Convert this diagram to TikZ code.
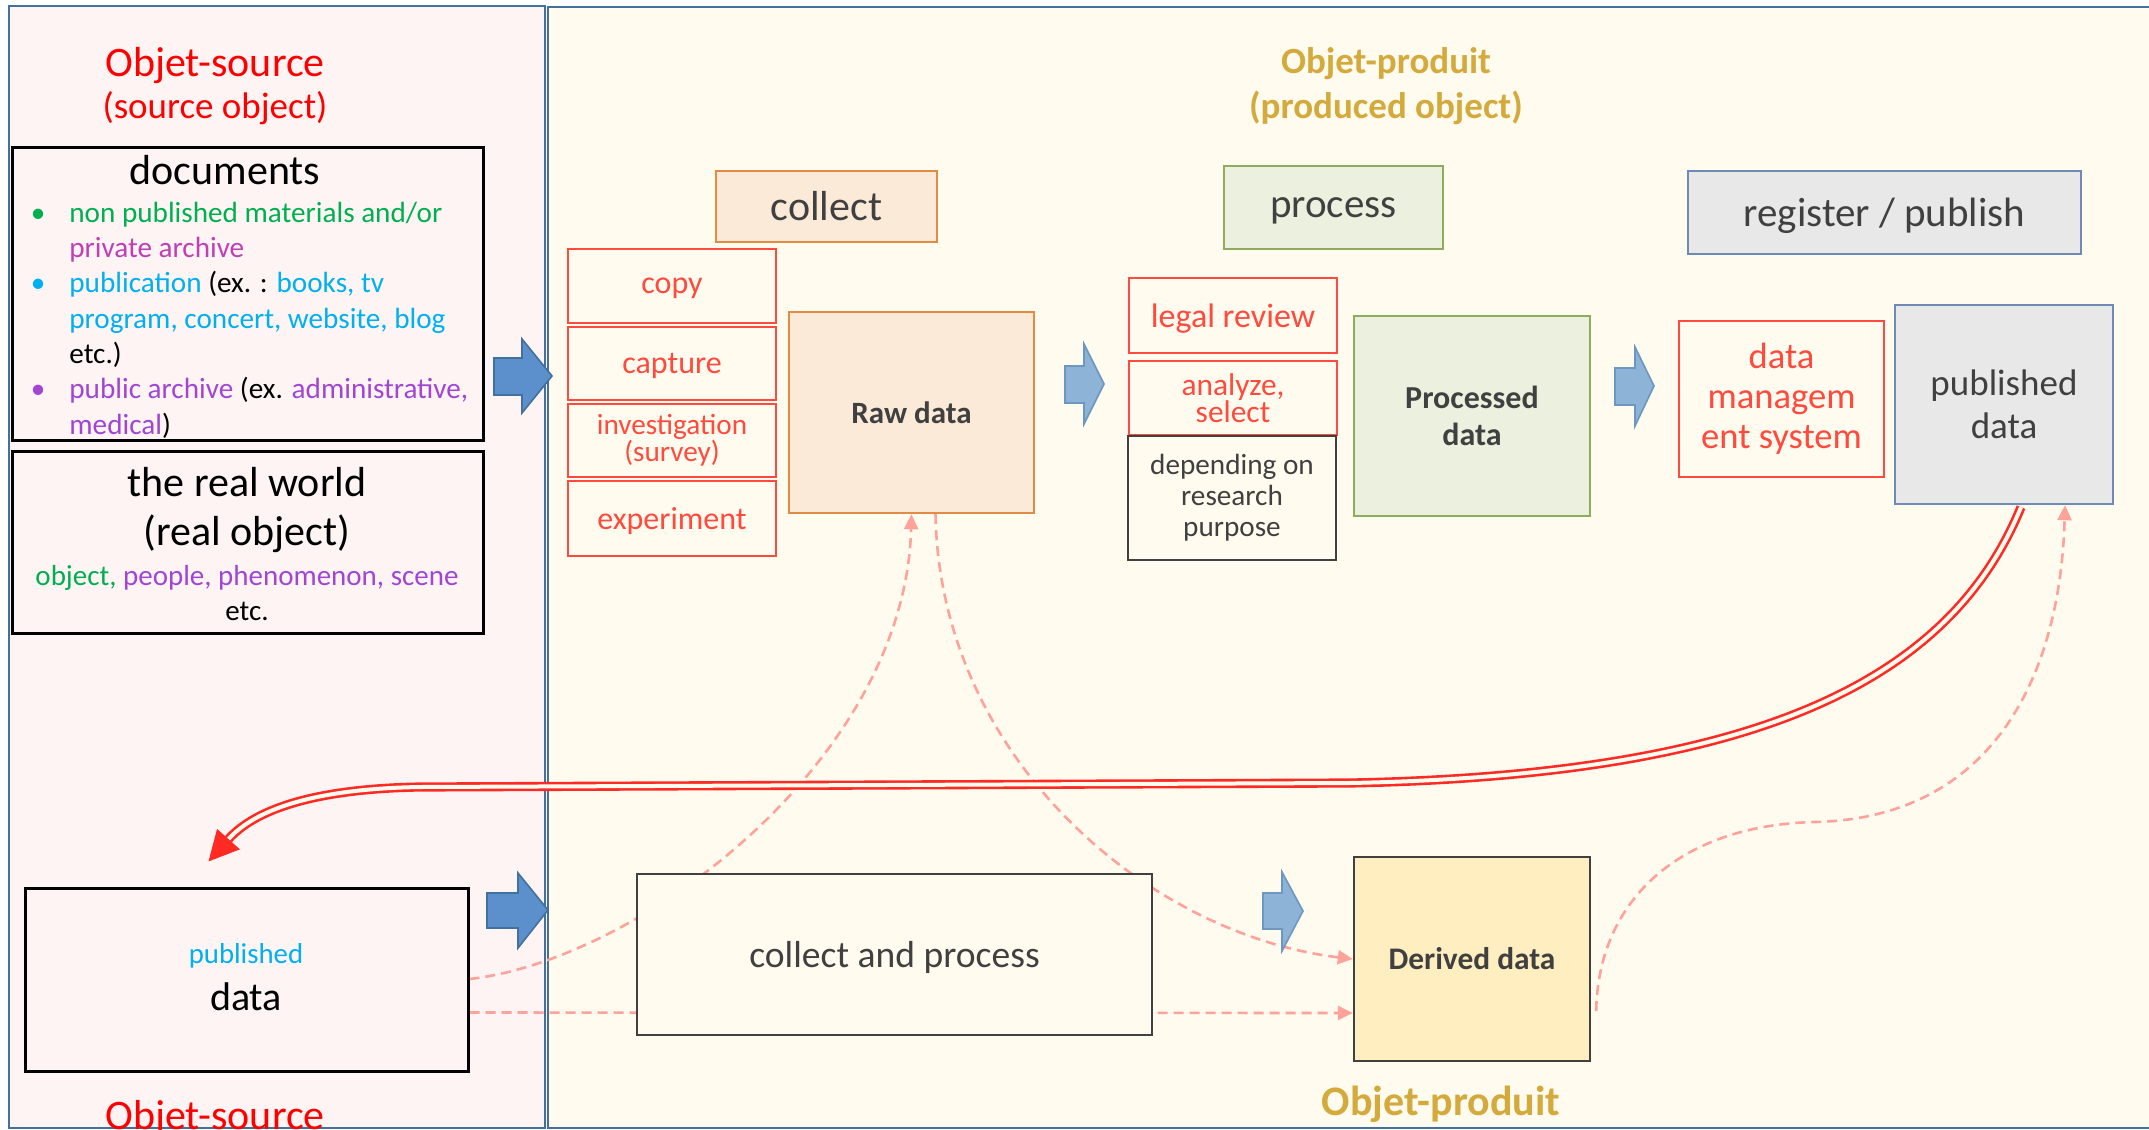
\documentclass[tikz,border=0pt]{standalone}
\usepackage{fontspec}
\setmainfont{Carlito}
\usetikzlibrary{arrows.meta,calc}

\definecolor{panelblue}{HTML}{41719C}
\definecolor{srcfill}{HTML}{FEF4F4}
\definecolor{prodfill}{HTML}{FFFBEF}
\definecolor{cgreen}{HTML}{00B050}
\definecolor{ccyan}{HTML}{00B0F0}
\definecolor{cmagenta}{HTML}{BE40B4}
\definecolor{cviolet}{HTML}{A046D2}
\definecolor{boxred}{HTML}{FF4A3D}
\definecolor{darktext}{HTML}{404040}
\definecolor{cgold}{HTML}{D4AA3C}
\definecolor{collfill}{HTML}{FBEAD7}
\definecolor{colldraw}{HTML}{E18B45}
\definecolor{procfill}{HTML}{EBF1DE}
\definecolor{procdraw}{HTML}{8DAC5E}
\definecolor{regfill}{HTML}{E8E8E8}
\definecolor{regdraw}{HTML}{6E8AB5}
\definecolor{derivfill}{HTML}{FFEEC0}
\definecolor{arrowdark}{HTML}{5C90CC}
\definecolor{arrowlight}{HTML}{8DB3D6}
\definecolor{arrowlightdraw}{HTML}{6D97BF}
\definecolor{dashpink}{HTML}{FFA39A}
\definecolor{linkred}{HTML}{FF2A24}

\pgfdeclarelayer{panels}
\pgfdeclarelayer{links}
\pgfsetlayers{panels,links,main}

\tikzset{
  panel/.style={draw=panelblue,line width=1.2pt},
  srcbox/.style={draw=black,line width=1.5pt,fill=srcfill,inner sep=0pt},
  redbox/.style={draw=boxred,line width=1.4pt,fill=prodfill,text=boxred,inner sep=0pt,minimum width=104pt,align=center},
  collbox/.style={draw=colldraw,line width=1.2pt,fill=collfill,text=darktext,inner sep=0pt,align=center},
  procbox/.style={draw=procdraw,line width=1.2pt,fill=procfill,text=darktext,inner sep=0pt,align=center},
  regbox/.style={draw=regdraw,line width=1.2pt,fill=regfill,text=darktext,inner sep=0pt,align=center},
  darkbox/.style={draw=darktext,line width=1.2pt,fill=prodfill,text=darktext,inner sep=0pt,align=center},
  onerow/.style={text depth=0pt},
  bigarrow/.style={fill=arrowdark,draw=panelblue,line width=0.8pt},
  smallarrow/.style={fill=arrowlight,draw=arrowlightdraw,line width=0.8pt},
  dashlink/.style={draw=dashpink,line width=1.3pt,dash pattern=on 5pt off 3pt,-{Triangle[length=7.5pt,width=7pt]}},
  redlink/.style={draw=linkred,line width=1.3pt,double=prodfill,double distance=2pt,-{Triangle[length=15pt,width=15pt]}}
}

\begin{document}
\begin{tikzpicture}[x=0.5pt,y=-0.5pt]
\useasboundingbox (0,0) rectangle (2149,1130);

% the two areas
\begin{pgfonlayer}{panels}
\draw[panel,fill=srcfill] (9,6) rectangle (545,1128);
\draw[panel,fill=prodfill] (548,7) rectangle (2160,1128);
\end{pgfonlayer}

% source side
\node[srcbox,minimum width=235.5pt,minimum height=146.5pt] (docs) at (247.5,293.5) {};
\node[srcbox,minimum width=235.5pt,minimum height=91pt] (realw) at (247.5,542) {};
\node[srcbox,minimum width=221.5pt,minimum height=91.5pt] (pubsrc) at (246.5,979.5) {};

\node[anchor=base,text=red,font=\fontsize{21}{25}\selectfont] (srctitle) at (215,76) {Objet-source};
\node[anchor=base,text=red,font=\fontsize{18.5}{22}\selectfont] (srcsub) at (215,118) {(source object)};
\node[anchor=base,font=\fontsize{21}{25}\selectfont] (doctitle) at (225,184) {documents};
% base of this node is its last row
\node[anchor=base west,align=left,inner sep=0pt,font=\fontsize{14.6}{17.65}\selectfont] (doclist) at (69,434)
  {\llap{\textcolor{cgreen}{\textbullet}\hspace{12pt}}\textcolor{cgreen}{non published materials and/or}\\
   \textcolor{cmagenta}{private archive}\\
   \llap{\textcolor{ccyan}{\textbullet}\hspace{12pt}}\textcolor{ccyan}{publication} (ex. : \textcolor{ccyan}{books, tv}\\
   \textcolor{ccyan}{program, concert, website, blog}\\
   etc.)\\
   \llap{\textcolor{cviolet}{\textbullet}\hspace{12pt}}\textcolor{cviolet}{public archive} (ex. \textcolor{cviolet}{administrative,}\\
   \textcolor{cviolet}{medical})};
\node[anchor=base,font=\fontsize{21}{25}\selectfont] (rwtitle) at (247,496) {the real world};
\node[anchor=base,font=\fontsize{21}{25}\selectfont] (rwsub) at (247,545) {(real object)};
\node[anchor=base,font=\fontsize{14.5}{17}\selectfont] (rwlist) at (247,585)
  {\textcolor{cgreen}{object,} \textcolor{cviolet}{people, phenomenon, scene}};
\node[anchor=base,font=\fontsize{14.5}{17}\selectfont] (rwetc) at (247,620) {etc.};
\node[anchor=base,text=ccyan,font=\fontsize{14.4}{17}\selectfont] (pubsrctop) at (246,963) {published};
\node[anchor=base,font=\fontsize{20}{24}\selectfont] (pubsrcdata) at (246,1010) {data};
\node[anchor=base,text=red,font=\fontsize{21}{25}\selectfont] (srcfoot) at (215,1129) {Objet-source};

% produced side, titles
\node[anchor=base,text=cgold,font=\bfseries\fontsize{18.5}{22}\selectfont] (prodtitle) at (1386,73) {Objet-produit};
\node[anchor=base,text=cgold,font=\bfseries\fontsize{18.5}{22}\selectfont] (prodsub) at (1386,118) {(produced object)};
\node[anchor=base,text=cgold,font=\bfseries\fontsize{21}{25}\selectfont] (prodfoot) at (1441,1115) {Objet-produit};

% collect
\node[collbox,minimum width=110.5pt,minimum height=35.5pt,font=\fontsize{21}{25}\selectfont] (collect) at (826.5,206.5) {collect};
\node[redbox,onerow,minimum height=37pt,font=\fontsize{16}{19}\selectfont] (copy) at (672,286) {copy};
\node[redbox,onerow,minimum height=36.5pt,font=\fontsize{16}{19}\selectfont] (capture) at (672,363.5) {capture};
\node[redbox,minimum height=36.5pt,font=\fontsize{14.6}{13.5}\selectfont] (invest) at (672,440.5) {investigation\\(survey)};
\node[redbox,onerow,minimum height=37.5pt,font=\fontsize{16}{19}\selectfont] (exper) at (672,518.5) {experiment};
\node[collbox,minimum width=122.5pt,minimum height=100.5pt,font=\bfseries\fontsize{15.5}{18}\selectfont] (raw) at (911.5,412.5) {Raw data};

% process
\node[procbox,onerow,minimum width=109.5pt,minimum height=41.5pt,font=\fontsize{20.5}{24}\selectfont] (process) at (1333.5,207.5) {process};
\node[redbox,onerow,minimum height=37.5pt,font=\fontsize{17}{20}\selectfont] (legal) at (1233,315.5) {legal review};
\node[redbox,minimum height=37pt,font=\fontsize{15.7}{13.5}\selectfont] (analyze) at (1233,398) {analyze,\\select};
\node[darkbox,minimum width=104pt,minimum height=62pt,font=\fontsize{14.6}{15.5}\selectfont] (depend) at (1232,498) {depending on\\research\\purpose};
\node[procbox,minimum width=118pt,minimum height=100pt,font=\bfseries\fontsize{16}{18.5}\selectfont] (procd) at (1472,416) {Processed\\data};

% register / publish
\node[regbox,onerow,minimum width=196.5pt,minimum height=41.5pt,font=\fontsize{20.5}{24}\selectfont] (register) at (1884.5,212.5) {register / publish};
\node[redbox,minimum width=102.5pt,minimum height=78pt,font=\fontsize{18.3}{20}\selectfont] (dms) at (1781.5,399) {data\\managem\\ent system};
\node[regbox,minimum width=109pt,minimum height=99.5pt,font=\fontsize{18.5}{21.5}\selectfont] (pubout) at (2004,404.5) {published\\data};

% derived data
\node[darkbox,onerow,minimum width=257.5pt,minimum height=80.5pt,font=\fontsize{18.8}{22}\selectfont] (colproc) at (894.5,954.5) {collect and process};
\node[darkbox,fill=derivfill,minimum width=118pt,minimum height=102pt,font=\bfseries\fontsize{15.7}{18}\selectfont] (derived) at (1472,959) {Derived data};

% links (under the boxes)
\begin{pgfonlayer}{links}
\draw[dashlink] ($(pubsrc.east)+(0,-0.5)$) .. controls (640,960) and (905,760) .. (raw.south);
\draw[dashlink] ($(raw.south)+(24,0)$) .. controls (940,760) and (1150,935) .. (derived.west);
\draw[dashlink] ($(pubsrc.east)+(0,33)$) -- ($(derived.west)+(0,54)$);
\draw[dashlink] ($(derived.east)+(5,52)$) .. controls (1598,900) and (1680,825) .. (1815,822)
  .. controls (1990,818) and (2060,680) .. ($(pubout.south)+(61,0)$);
\draw[redlink] ($(pubout.south)+(17,2)$) .. controls (1950,680) and (1760,775) .. (1350,783)
  -- (420,787) .. controls (300,789) and (250,815) .. ($(pubsrc.north)+(-38,-25)$);
\end{pgfonlayer}

% block arrows
\draw[bigarrow] (494,358) -- (522,358) -- (522,339) -- (552,376) -- (522,413) -- (522,395) -- (494,395) -- cycle;
\draw[bigarrow] (487,893) -- (518,893) -- (518,873) -- (548,910) -- (518,948) -- (518,928) -- (487,928) -- cycle;
\draw[smallarrow] (1065,366) -- (1084,366) -- (1084,344) -- (1104,384) -- (1084,424) -- (1084,403) -- (1065,403) -- cycle;
\draw[smallarrow] (1615,368) -- (1635,368) -- (1635,347) -- (1654,386) -- (1635,426) -- (1635,405) -- (1615,405) -- cycle;
\draw[smallarrow] (1263,893) -- (1282,893) -- (1282,872) -- (1303,911) -- (1282,951) -- (1282,929) -- (1263,929) -- cycle;
\end{tikzpicture}
\end{document}
